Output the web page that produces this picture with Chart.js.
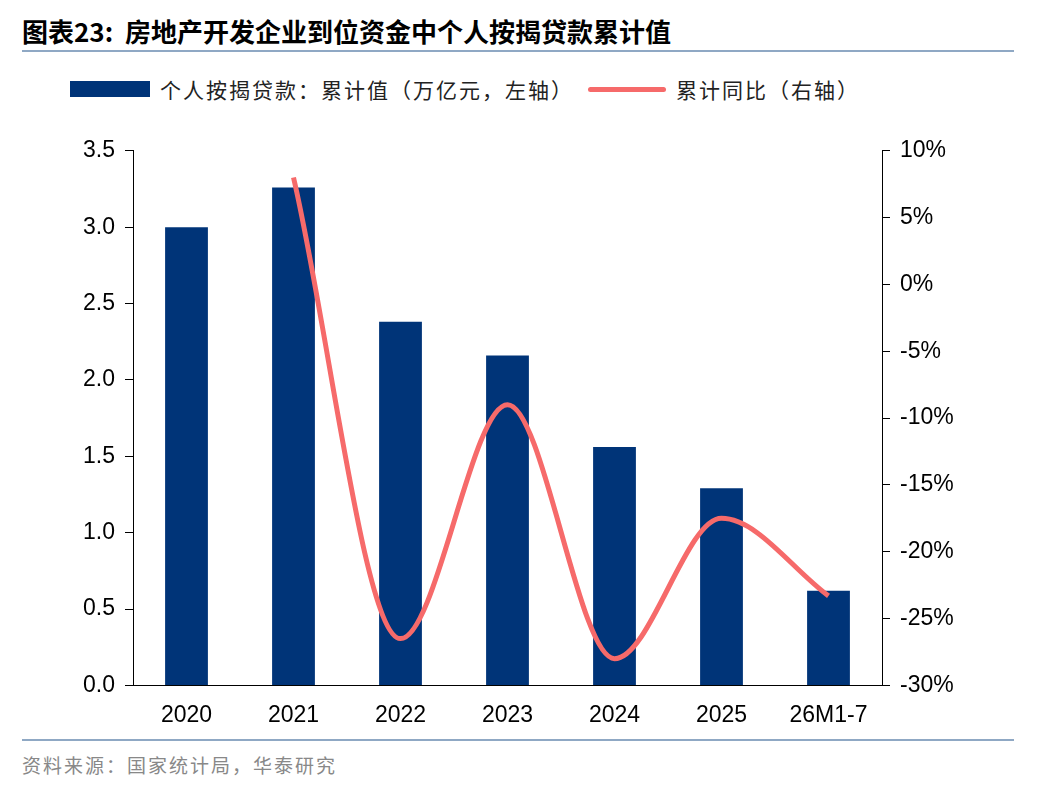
<!DOCTYPE html>
<html><head><meta charset="utf-8">
<script src="https://cdn.jsdelivr.net/npm/chart.js@4"></script>
<style>
body{margin:0;width:1048px;height:792px;background:#fff;font-family:"Noto Sans CJK SC",sans-serif;position:relative;overflow:hidden}
#title{position:absolute;left:22px;top:12px;font-size:26px;font-weight:bold;color:#000}
.hr{position:absolute;left:22px;width:992px;height:2px;background:#8fa8c4}
#legend{position:absolute;top:74px;left:70px;font-size:21px;color:#222;display:flex;align-items:center;letter-spacing:2px}
#src{position:absolute;left:22px;top:751px;font-size:19px;color:#888;letter-spacing:2px}
#wrap{position:absolute;left:0;top:127px;width:1048px;height:610px}
</style></head><body>
<div id="title">图表23:&nbsp;&nbsp;房地产开发企业到位资金中个人按揭贷款累计值</div>
<div class="hr" style="top:50px"></div>
<div id="legend"><span style="display:inline-block;width:80px;height:16px;background:#003478;margin-right:10px"></span>个人按揭贷款：累计值（万亿元，左轴）<span style="display:inline-block;width:78px;height:5px;background:#f66a6a;margin:0 10px 0 14px;border-radius:3px"></span>累计同比（右轴）</div>
<div id="wrap"><canvas id="c"></canvas></div>
<div class="hr" style="top:739px"></div>
<div id="src">资料来源：国家统计局，华泰研究</div>
<script>
const categories = ['2020','2021','2022','2023','2024','2025','26M1-7'];
const loanValues = [3.0, 3.26, 2.38, 2.16, 1.56, 1.29, 0.62];
const yoyValues = [null, 8.0, -26.5, -9.0, -28.0, -17.5, -23.3];

new Chart(document.getElementById('c'), {
  data: {
    labels: categories,
    datasets: [
      {type:'line', data: yoyValues, yAxisID:'y1', borderColor:'#f66a6a', borderWidth:5,
       pointRadius:0, cubicInterpolationMode:'monotone', order:0, spanGaps:true},
      {type:'bar', data: loanValues, yAxisID:'y', backgroundColor:'#003478', categoryPercentage:0.8, barPercentage:0.5, order:1}
    ]
  },
  options: {
    responsive:true, maintainAspectRatio:false, animation:false,
    layout:{padding:{top:20,bottom:0,left:20,right:40}},
    plugins:{legend:{display:false}, tooltip:{enabled:false}},
    scales:{
      x:{grid:{display:false}, border:{color:'#000'}, ticks:{color:'#000',font:{size:23,family:'Liberation Sans'},padding:8}},
      y:{min:0,max:3.5, ticks:{stepSize:0.5,color:'#000',callback:v=>v.toFixed(1),font:{size:23,family:'Liberation Sans'},padding:10},
         grid:{drawOnChartArea:false,tickLength:8,color:'#000'}, border:{color:'#000'},
         afterFit:s=>{s.width=113}},
      y1:{position:'right',min:-30,max:10, ticks:{stepSize:5,color:'#000',callback:v=>v+'%',font:{size:23,family:'Liberation Sans'},padding:10},
         grid:{drawOnChartArea:false,tickLength:8,color:'#000'}, border:{color:'#000'},
         afterFit:s=>{s.width=126}}
    }
  }
});
</script>
</body></html>
